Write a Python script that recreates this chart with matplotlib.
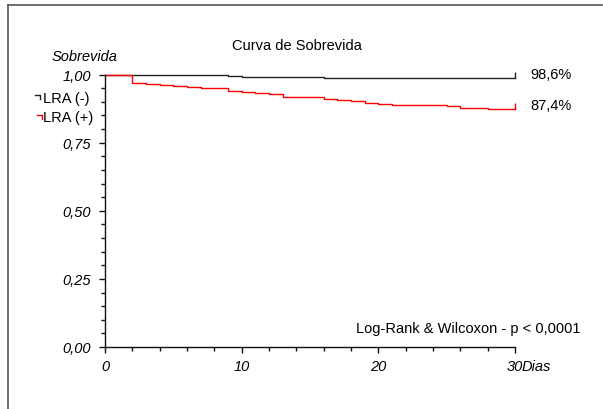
import matplotlib
matplotlib.use("Agg")
import matplotlib.pyplot as plt
from matplotlib.lines import Line2D
from matplotlib.ticker import MultipleLocator, FixedLocator
from matplotlib import font_manager

names = set(f.name for f in font_manager.fontManager.ttflist)
if 'Liberation Sans Narrow' in names:
    plt.rcParams['font.family'] = ['Liberation Sans Narrow', 'Liberation Sans']
    FS = 12
else:
    plt.rcParams['font.family'] = ['Liberation Sans', 'DejaVu Sans']
    FS = 10.5

# survival curves (days, survival)
days_neg = [0, 6, 9, 10, 12, 16, 30]
surv_neg = [1.0, 0.999, 0.995, 0.991, 0.990, 0.986, 0.986]

days_pos = [0, 2, 3, 4, 5, 6, 7, 8, 9, 10, 11, 12, 13, 16, 17, 18, 19, 20,
            21, 25, 26, 27, 28, 30]
surv_pos = [1.0, 0.970, 0.966, 0.961, 0.959, 0.955, 0.951, 0.949, 0.939,
            0.935, 0.932, 0.927, 0.918, 0.911, 0.906, 0.903, 0.896, 0.893,
            0.889, 0.884, 0.879, 0.877, 0.874, 0.874]

labels = ['LRA (-)', 'LRA (+)']
final_labels = ['98,6%', '87,4%']
x_ticks = [0, 10, 20, 30]
y_ticks = [0.0, 0.25, 0.5, 0.75, 1.0]
y_ticklabels = ['0,00', '0,25', '0,50', '0,75', '1,00']

W, H = 603, 410
fig = plt.figure(figsize=(W / 100, H / 100), dpi=100)

def fx(px):
    return px / W

def fy(py):
    return 1 - py / H

ax = fig.add_axes([fx(105), fy(348), fx(515) - fx(105), fy(75.6) - fy(348)])

black = '#222222'
red = '#ff0000'

ax.step(days_neg, surv_neg, where='post', color=black, lw=1, clip_on=False)
ax.step(days_pos, surv_pos, where='post', color=red, lw=1, clip_on=False)
# end-of-follow-up marks
ax.plot(days_neg[-1], surv_neg[-1], marker=2, ms=4, mew=1, color=black, clip_on=False)
ax.plot(days_pos[-1], surv_pos[-1], marker=2, ms=4, mew=1, color=red, clip_on=False)

ax.set_xlim(0, 30)
ax.set_ylim(0, 1)
for s in ['top', 'right']:
    ax.spines[s].set_visible(False)
for s in ['left', 'bottom']:
    ax.spines[s].set_color('#111111')
    ax.spines[s].set_linewidth(1)

ax.xaxis.set_major_locator(FixedLocator(x_ticks))
ax.xaxis.set_minor_locator(MultipleLocator(2))
ax.yaxis.set_major_locator(FixedLocator(y_ticks))
ax.yaxis.set_minor_locator(MultipleLocator(0.05))
ax.set_yticklabels(y_ticklabels, fontstyle='italic', fontsize=FS)
ax.set_xticklabels([str(t) for t in x_ticks], fontstyle='italic', fontsize=FS)
ax.tick_params(which='major', length=4, width=1, color='#111111')
ax.tick_params(which='minor', length=3, width=1, color='#111111')
ax.tick_params(axis='y', pad=6)
ax.tick_params(axis='x', pad=5)

fig.text(fx(522), fy(367), 'Dias', fontstyle='italic', fontsize=FS, va='center', ha='left')
fig.text(fx(85), fy(57), 'Sobrevida', fontstyle='italic', fontsize=FS, ha='center', va='center')
fig.text(fx(297), fy(46), 'Curva de Sobrevida', fontsize=FS, ha='center', va='center')

# legend
fig.text(fx(43), fy(99), labels[0], fontsize=FS, va='center', ha='left')
fig.text(fx(43), fy(118), labels[1], fontsize=FS, va='center', ha='left')
fig.add_artist(Line2D([fx(35), fx(40), fx(40)], [fy(96), fy(96), fy(100)], color=black, lw=1))
fig.add_artist(Line2D([fx(37), fx(42), fx(42)], [fy(116), fy(116), fy(120)], color=red, lw=1))

fig.text(fx(530), fy(75), final_labels[0], fontsize=FS, va='center', ha='left')
fig.text(fx(530), fy(106), final_labels[1], fontsize=FS, va='center', ha='left')
fig.text(fx(580), fy(329), 'Log-Rank & Wilcoxon - p < 0,0001', fontsize=FS, va='center', ha='right')

# outer frame (top and left only)
fig.add_artist(Line2D([fx(8), fx(602)], [fy(5.5), fy(5.5)], color='#555555', lw=1.2))
fig.add_artist(Line2D([fx(8), fx(8)], [fy(5.5), 0], color='#555555', lw=1.2))

fig.savefig('out.png', dpi=100)
